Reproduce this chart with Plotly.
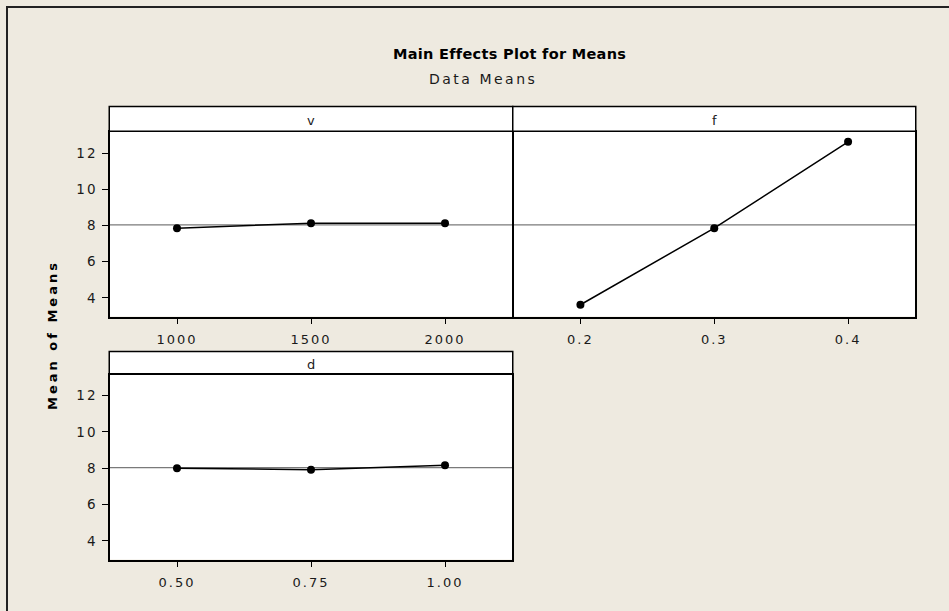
import numpy as np
import plotly.graph_objects as go

# ---- data ----
v_levels = [1000, 1500, 2000]
v_means = [7.85, 8.12, 8.12]
f_levels = [0.2, 0.3, 0.4]
f_means = [3.62, 7.85, 12.62]
d_levels = [0.50, 0.75, 1.00]
d_means = [8.00, 7.92, 8.16]
d_ticktext = ["0.50", "0.75", "1.00"]
v_ticktext = ["1000", "1500", "2000"]
f_ticktext = ["0.2", "0.3", "0.4"]
y_tickvals = [4, 6, 8, 10, 12]
y_ticktext = ["4", "6", "8", "10", "12"]
panel_names = ["v", "f", "d"]

grand_mean = float(np.mean(v_means + f_means + d_means))

W, H = 949, 611
BG = "#EEEAE0"
FONT = "DejaVu Sans"
TXT = "#1a1a1a"
LW = 1.5


def px(x):
    return x / W


def py(y):
    return 1 - y / H


def spaced(s, sp):
    return f'<span style="letter-spacing:{sp}px">{s}</span>'


fig = go.Figure()

panels = [
    # (xaxis id, yaxis id, levels, means, ticktext, x-range, left, right, top, bottom, strip_top)
    ("x", "y", v_levels, v_means, v_ticktext, [750, 2250], 110, 512, 132, 316.5, 106.5),
    ("x2", "y2", f_levels, f_means, f_ticktext, [0.15, 0.45], 512 + LW, 915, 132, 316.5, 106.5),
    ("x3", "y3", d_levels, d_means, d_ticktext, [0.375, 1.125], 110, 512, 374.5, 559.5, 351.5),
]

yrange = [2.97, 13.16]
shapes = []
annotations = []

for i, (xa, ya, lev, means, tt, xr, L, R, T, B, ST) in enumerate(panels):
    fig.add_trace(go.Scatter(
        x=lev, y=means, xaxis=xa, yaxis=ya, mode="lines+markers",
        line=dict(color="black", width=1.5),
        marker=dict(color="black", size=8),
        showlegend=False, hoverinfo="x+y",
    ))
    xkey = "xaxis" if xa == "x" else "xaxis" + xa[1:]
    ykey = "yaxis" if ya == "y" else "yaxis" + ya[1:]
    show_y = (i != 1)
    fig.layout[xkey] = dict(
        domain=[px(L), px(R)], range=xr, anchor=ya,
        tickvals=lev, ticktext=[spaced(t, 2) for t in tt],
        ticks="outside", ticklen=6, tickwidth=1, ticklabelstandoff=4,
        tickcolor="black", showgrid=False, zeroline=False,
        showline=True, linecolor="black", linewidth=LW, mirror=True,
        tickfont=dict(family=FONT, size=13, color=TXT),
        fixedrange=True,
    )
    fig.layout[ykey] = dict(
        domain=[py(B), py(T)], range=yrange, anchor=xa,
        tickvals=y_tickvals if show_y else [],
        ticktext=[spaced(t, 2) for t in y_ticktext] if show_y else [],
        ticks="outside" if show_y else "", ticklabelstandoff=2,
        ticklen=6, tickwidth=1, tickcolor="black",
        showticklabels=show_y, showgrid=False, zeroline=False,
        showline=True, linecolor="black", linewidth=LW, mirror=True,
        tickfont=dict(family=FONT, size=13.5, color=TXT),
        fixedrange=True,
    )
    # grand mean reference line
    shapes.append(dict(type="line", xref=f"{xa} domain", yref=ya,
                       x0=0, x1=1, y0=grand_mean, y1=grand_mean,
                       line=dict(color="#7a7a7a", width=1.2), layer="below"))
    # strip header
    shapes.append(dict(type="rect", xref="paper", yref="paper",
                       x0=px(L - LW / 2), x1=px(R + LW / 2), y0=py(T - LW / 2), y1=py(ST),
                       fillcolor="white", line=dict(color="black", width=LW)))
    annotations.append(dict(text=panel_names[i], xref="paper", yref="paper",
                            x=(px(L) + px(R)) / 2, y=(py(T) + py(ST)) / 2 - 1.5 / H,
                            showarrow=False, xanchor="center", yanchor="middle",
                            font=dict(family=FONT, size=13, color=TXT)))

# outer frame
shapes.append(dict(type="rect", xref="paper", yref="paper",
                   x0=px(7), x1=1.05, y0=-0.05, y1=py(7),
                   line=dict(color="#222222", width=2), fillcolor="rgba(0,0,0,0)",
                   layer="below"))

annotations += [
    dict(text="<b>" + spaced("Main Effects Plot for Means", 0.3) + "</b>",
         xref="paper", yref="paper",
         x=px(509), y=py(53.5), showarrow=False, xanchor="center", yanchor="middle",
         font=dict(family=FONT, size=14.5, color="black")),
    dict(text=spaced("Data Means", 2.5), xref="paper", yref="paper",
         x=px(483), y=py(79.5), showarrow=False, xanchor="center", yanchor="middle",
         font=dict(family=FONT, size=14, color=TXT)),
    dict(text="<b>" + spaced("Mean of Means", 3) + "</b>", xref="paper", yref="paper",
         x=px(52), y=py(335), showarrow=False, textangle=-90,
         xanchor="center", yanchor="middle",
         font=dict(family=FONT, size=13, color="black")),
]

fig.update_layout(
    width=W, height=H, margin=dict(l=0, r=0, t=0, b=0),
    paper_bgcolor=BG, plot_bgcolor="white",
    shapes=shapes, annotations=annotations, showlegend=False,
)

fig.write_html(
    "out.html",
    config={"displayModeBar": False},
    post_script="document.body.style.margin='0';document.body.style.padding='0';document.body.style.overflow='hidden';",
)
